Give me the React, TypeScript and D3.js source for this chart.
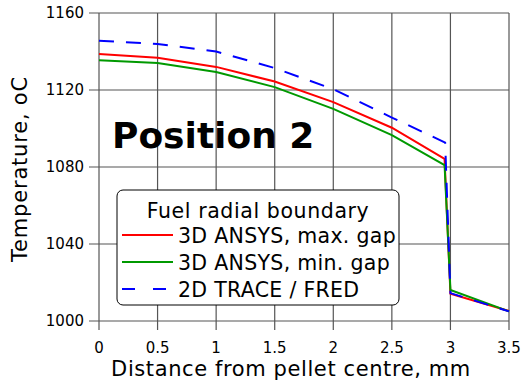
import React, { useEffect, useRef } from "react";
import * as d3 from "d3";

const W = 524;
const H = 387;

const maxGapX = [0, 0.5, 1, 1.5, 2, 2.5, 2.95, 3, 3.5];
const maxGapT = [1138.7, 1136.7, 1132.0, 1124.4, 1113.7, 1100.4, 1084.2, 1014.2, 1005.2];
const minGapX = [0, 0.5, 1, 1.5, 2, 2.5, 2.95, 3, 3.5];
const minGapT = [1135.5, 1134.0, 1129.3, 1121.5, 1110.2, 1096.6, 1081.0, 1016.1, 1005.0];
const traceX = [0, 0.5, 1, 1.5, 2, 2.5, 2.955, 3, 3.5];
const traceT = [1145.6, 1143.9, 1140.0, 1131.4, 1120.4, 1105.7, 1092.7, 1014.5, 1005.0];

const xTicks = [0, 0.5, 1, 1.5, 2, 2.5, 3, 3.5];
const yTicks = [1000, 1040, 1080, 1120, 1160];

const series = [
  { name: "3D ANSYS, max. gap", xs: maxGapX, ys: maxGapT, color: "#ff0000", dash: "" },
  { name: "3D ANSYS, min. gap", xs: minGapX, ys: minGapT, color: "#009900", dash: "" },
  { name: "2D TRACE / FRED", xs: traceX, ys: traceT, color: "#0000ff", dash: "15,12" },
];

const App = () => {
  const ref = useRef<SVGSVGElement>(null);

  useEffect(() => {
    const svg = d3.select(ref.current);
    svg.selectAll("*").remove();
    const font = "DejaVu Sans, Verdana, sans-serif";
    const m = { left: 99, right: 509, top: 13, bottom: 321 };

    const x = d3.scaleLinear().domain([0, 3.5]).range([m.left, m.right]);
    const y = d3.scaleLinear().domain([1000, 1160]).range([m.bottom, m.top]);

    const grid = svg.append("g").attr("stroke", "#555").attr("stroke-width", 1.2);
    grid.selectAll("line.v").data(xTicks).join("line")
      .attr("x1", d => x(d)).attr("x2", d => x(d))
      .attr("y1", m.top).attr("y2", m.bottom + 9);
    grid.selectAll("line.h").data(yTicks).join("line")
      .attr("y1", d => y(d)).attr("y2", d => y(d))
      .attr("x1", m.left - 10).attr("x2", m.right);

    svg.append("g").attr("font-family", font).attr("font-size", 15).attr("fill", "#000")
      .selectAll("text").data(yTicks).join("text")
      .attr("x", m.left - 15).attr("y", d => y(d)).attr("dy", "0.36em")
      .attr("text-anchor", "end").text(d => d);

    svg.append("g").attr("font-family", font).attr("font-size", 15).attr("fill", "#000")
      .selectAll("text").data(xTicks).join("text")
      .attr("x", d => x(d)).attr("y", 353)
      .attr("text-anchor", "middle").text(d => String(d));

    const line = d3.line<[number, number]>().x(d => x(d[0])).y(d => y(d[1]));
    const plot = svg.append("g");
    series.forEach(s => {
      plot.append("path")
        .attr("d", line(s.xs.map((v, i) => [v, s.ys[i]] as [number, number])))
        .attr("fill", "none").attr("stroke", s.color).attr("stroke-width", 2)
        .attr("stroke-dasharray", s.dash || null);
    });

    svg.append("text").attr("font-family", font).attr("font-weight", "bold")
      .attr("font-size", 36).attr("x", 112).attr("y", 148).text("Position 2");

    // legend
    const lg = svg.append("g").attr("font-family", font);
    lg.append("rect").attr("x", 117).attr("y", 190).attr("width", 282).attr("height", 115)
      .attr("rx", 6).attr("fill", "#fff").attr("stroke", "#000").attr("stroke-width", 1);
    lg.append("text").attr("x", 258).attr("y", 218).attr("font-size", 20.5)
      .attr("letter-spacing", 0.6)
      .attr("text-anchor", "middle").text("Fuel radial boundary");
    series.forEach((s, i) => {
      const yy = 235 + i * 27;
      lg.append("line").attr("x1", 122).attr("x2", 173).attr("y1", yy).attr("y2", yy)
        .attr("stroke", s.color).attr("stroke-width", 2)
        .attr("stroke-dasharray", s.dash ? "13,18" : null);
      lg.append("text").attr("x", 178).attr("y", yy + 8).attr("font-size", 20.5)
        .attr("letter-spacing", 0.3).text(s.name);
    });

    svg.append("text").attr("font-family", font).attr("font-size", 21)
      .attr("letter-spacing", 0.6)
      .attr("x", (m.left + m.right) / 2 - 13).attr("y", 376).attr("text-anchor", "middle")
      .text("Distance from pellet centre, mm");
    svg.append("text").attr("font-family", font).attr("font-size", 21)
      .attr("letter-spacing", 0.8)
      .attr("transform", `translate(27,169) rotate(-90)`)
      .attr("text-anchor", "middle").text("Temperature, oC");
  }, []);

  return (
    <svg ref={ref} width={W} height={H}
      style={{ position: "absolute", left: 0, top: 0, background: "#fff" }} />
  );
};

export default App;
